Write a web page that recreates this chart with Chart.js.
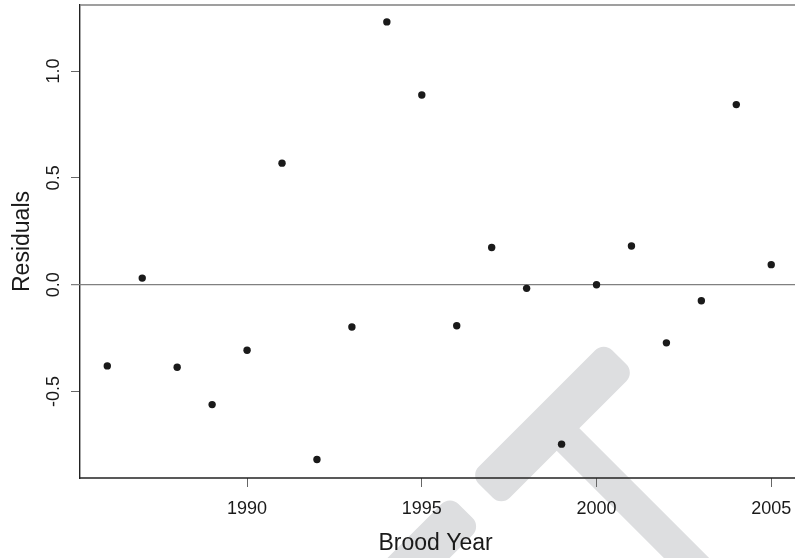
<!DOCTYPE html>
<html>
<head>
<meta charset="utf-8">
<script src="https://cdn.jsdelivr.net/npm/chart.js@4"></script>
<style>
    body { margin: 0; background: #fff; }
    canvas { display: block; }
</style>
</head>
<body>
<canvas id="graphic" width="795" height="558"></canvas>
<script>
// residuals by brood year
const years = [1986, 1987, 1988, 1989, 1990, 1991, 1992, 1993, 1994, 1995,
               1996, 1997, 1998, 1999, 2000, 2001, 2002, 2003, 2004, 2005];
const residuals = [-0.380, 0.031, -0.386, -0.561, -0.307, 0.569, -0.818, -0.198, 1.230, 0.888,
                   -0.192, 0.174, -0.017, -0.746, 0.000, 0.181, -0.272, -0.075, 0.843, 0.094];

const xTicks = [1990, 1995, 2000, 2005];
const yTicks = [-0.5, 0.0, 0.5, 1.0];

const font = 'Liberation Sans, Arial, Helvetica, sans-serif';
const ink = '#1a1a1a';

const pontos = years.map((ano, i) => ({ x: ano, y: residuals[i] }));

// gray T-shaped stamp behind the plot
const stampPlugin = {
    id: 'stamp',
    beforeDraw(chart) {
        const c = chart.ctx;
        c.save();
        c.fillStyle = 'rgb(221,222,224)';
        c.translate(552.5, 424);
        c.rotate(-Math.PI / 4);
        c.beginPath();
        c.roundRect(-94.4, -22, 188.8, 44, 12);
        c.roundRect(-372, -22, 249, 44, 12);
        c.rect(-16, 0, 32, 300);
        c.fill();
        c.restore();
    }
};

// box edges (they run on past the right side) and the zero reference line
const framePlugin = {
    id: 'frame',
    beforeDatasetsDraw(chart) {
        const { ctx: c, chartArea: area, scales, width } = chart;
        c.save();
        c.strokeStyle = '#808080';
        c.lineWidth = 1.3;
        c.beginPath();
        c.moveTo(area.left, area.top);
        c.lineTo(width, area.top);
        const y0 = scales.y.getPixelForValue(0);
        c.moveTo(area.left - 9, y0);
        c.lineTo(width, y0);
        c.stroke();

        c.strokeStyle = '#222';
        c.lineWidth = 1.5;
        c.beginPath();
        c.moveTo(area.left - 0.7, area.bottom);
        c.lineTo(width, area.bottom);
        c.stroke();
        c.restore();
    }
};

new Chart(document.getElementById('graphic'), {
    type: 'scatter',
    data: {
        datasets: [{
            data: pontos,
            backgroundColor: ink,
            borderWidth: 0,
            pointRadius: 3.7,
            pointHoverRadius: 3.7
        }]
    },
    options: {
        responsive: false,
        animation: false,
        devicePixelRatio: 1,
        layout: { padding: { top: 5, left: 0, right: 0, bottom: 0 } },
        plugins: { legend: { display: false }, tooltip: { enabled: false } },
        scales: {
            x: {
                type: 'linear',
                position: 'bottom',
                min: 1985.219,
                max: 2005.574,
                afterBuildTicks: (scale) => { scale.ticks = xTicks.map(v => ({ value: v })); },
                afterFit: (scale) => {
                    scale.height = 80;
                    scale.paddingLeft = 0; scale.paddingRight = 0;
                },
                ticks: {
                    callback: (v) => String(v),
                    color: ink,
                    font: { family: font, size: 18 },
                    padding: 11,
                    maxRotation: 0,
                    autoSkip: false
                },
                grid: { drawOnChartArea: false, tickLength: 9, color: '#666', lineWidth: 1 },
                border: { display: false },
                title: {
                    display: true,
                    text: 'Brood Year',
                    color: ink,
                    font: { family: font, size: 23 },
                    padding: { top: 0, bottom: 1 }
                }
            },
            y: {
                type: 'linear',
                min: -0.9045,
                max: 1.309,
                afterBuildTicks: (scale) => { scale.ticks = yTicks.map(v => ({ value: v })); },
                afterFit: (scale) => {
                    scale.width = 80;
                    scale.paddingTop = 0; scale.paddingBottom = 0;
                },
                ticks: {
                    callback: (v) => v.toFixed(1),
                    color: ink,
                    font: { family: font, size: 18 },
                    minRotation: 90,
                    maxRotation: 90,
                    crossAlign: 'center',
                    padding: 1,
                    autoSkip: false
                },
                grid: { drawOnChartArea: false, tickLength: 9, color: '#666', lineWidth: 1 },
                border: { color: '#222', width: 1.4 },
                title: {
                    display: true,
                    text: 'Residuals',
                    color: ink,
                    font: { family: font, size: 23 },
                    padding: { top: 9, bottom: 0 }
                }
            }
        }
    },
    plugins: [stampPlugin, framePlugin]
});
</script>
</body>
</html>
